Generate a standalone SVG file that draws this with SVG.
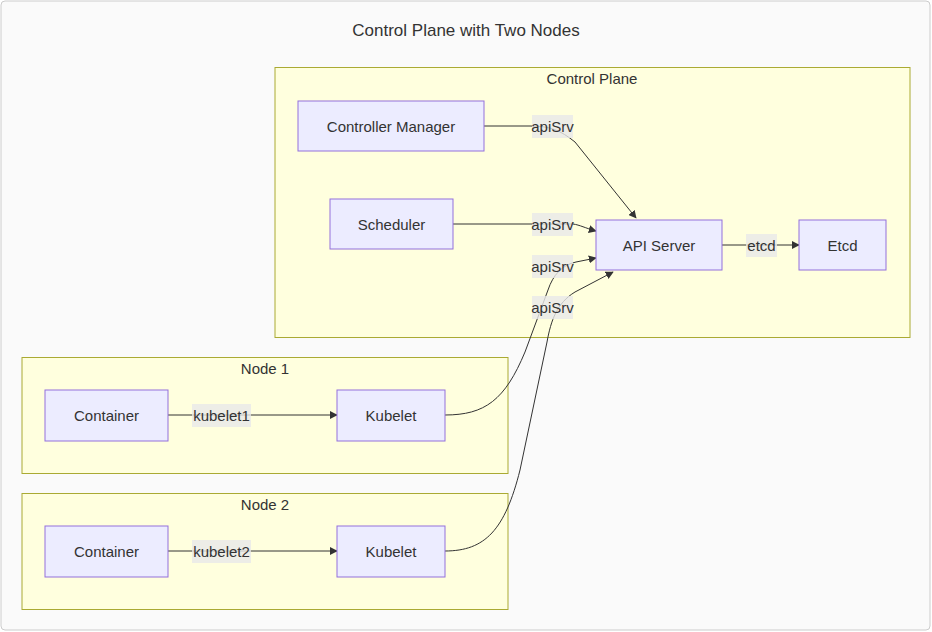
<svg xmlns="http://www.w3.org/2000/svg" width="932" height="632" viewBox="0 0 932 632">
<defs>
<marker id="arrow" viewBox="0 0 10 10" refX="9" refY="5" markerWidth="8" markerHeight="8" markerUnits="userSpaceOnUse" orient="auto">
<path d="M0,0 L10,5 L0,10 z" fill="#333"/>
</marker>
<style>
text{font-family:"Liberation Sans",Arial,sans-serif;fill:#333;}
.title{font-size:17px;text-anchor:middle;}
.ctitle{font-size:15px;text-anchor:middle;}
.cluster{fill:#ffffde;stroke:#aaaa33;stroke-width:1;}
.node rect{fill:#ececff;stroke:#9370db;stroke-width:1;}
.node text{font-size:15px;text-anchor:middle;dominant-baseline:central;}
.edge{fill:none;stroke:#333;stroke-width:1;}
.lbl rect{fill:#e8e8e8;fill-opacity:0.8;}
.lbl text{font-size:15px;text-anchor:middle;dominant-baseline:central;}
</style>
</defs>
<rect x="1" y="1" width="929" height="629" rx="4" fill="#fafafa" stroke="#cccccc"/>
<text class="title" x="466" y="36">Control Plane with Two Nodes</text>

<g id="cluster-control-plane">
<rect class="cluster" x="275" y="67.5" width="635" height="270"/>
<text class="ctitle" x="592" y="84">Control Plane</text>
</g>
<g id="cluster-node1">
<rect class="cluster" x="22" y="357.5" width="486" height="116"/>
<text class="ctitle" x="265" y="374">Node 1</text>
</g>
<g id="cluster-node2">
<rect class="cluster" x="22" y="493.5" width="486" height="116"/>
<text class="ctitle" x="265" y="510">Node 2</text>
</g>

<g id="connectors">
<path class="edge" d="M484,126 L530,126 C550,126 560,130 575,142 L636,218" marker-end="url(#arrow)"/>
<path class="edge" d="M453,224 L573,224 C580,225 585,228 596,231" marker-end="url(#arrow)"/>
<path class="edge" d="M445,415 C485,415 505,400 525,352 L548,290 C553,275 562,265 576,262 L596,258" marker-end="url(#arrow)"/>
<path class="edge" d="M445,551 C485,551 505,530 520,470 L547,342 C551,320 557,303 575,292 L613,272" marker-end="url(#arrow)"/>
<path class="edge" d="M722,245 L799,245" marker-end="url(#arrow)"/>
<path class="edge" d="M168,415 L337,415" marker-end="url(#arrow)"/>
<path class="edge" d="M168,551 L337,551" marker-end="url(#arrow)"/>
<g class="lbl"><rect x="532" y="115" width="41" height="23"/><text x="552.5" y="126">apiSrv</text></g>
<g class="lbl"><rect x="532" y="213" width="41" height="23"/><text x="552.5" y="224">apiSrv</text></g>
<g class="lbl"><rect x="532" y="255" width="41" height="23"/><text x="552.5" y="266">apiSrv</text></g>
<g class="lbl"><rect x="532" y="296" width="41" height="23"/><text x="552.5" y="307">apiSrv</text></g>
<g class="lbl"><rect x="746" y="234" width="31" height="23"/><text x="761.5" y="245">etcd</text></g>
<g class="lbl"><rect x="192" y="404" width="59" height="23"/><text x="221.5" y="415">kubelet1</text></g>
<g class="lbl"><rect x="192" y="540" width="59" height="23"/><text x="221.5" y="551">kubelet2</text></g>
</g>

<g id="controller-manager" class="node"><rect x="298" y="101" width="186" height="50"/><text x="391" y="126">Controller Manager</text></g>
<g id="scheduler" class="node"><rect x="330" y="199" width="123" height="50"/><text x="391.5" y="224">Scheduler</text></g>
<g id="api-server" class="node"><rect x="596" y="220" width="126" height="50"/><text x="659" y="245">API Server</text></g>
<g id="etcd" class="node"><rect x="799" y="220" width="87" height="50"/><text x="842.5" y="245">Etcd</text></g>
<g id="container1" class="node"><rect x="45" y="390" width="123" height="51"/><text x="106.5" y="415">Container</text></g>
<g id="kubelet1" class="node"><rect x="337" y="390" width="108" height="51"/><text x="391" y="415">Kubelet</text></g>
<g id="container2" class="node"><rect x="45" y="526" width="123" height="51"/><text x="106.5" y="551">Container</text></g>
<g id="kubelet2" class="node"><rect x="337" y="526" width="108" height="51"/><text x="391" y="551">Kubelet</text></g>
</svg>
